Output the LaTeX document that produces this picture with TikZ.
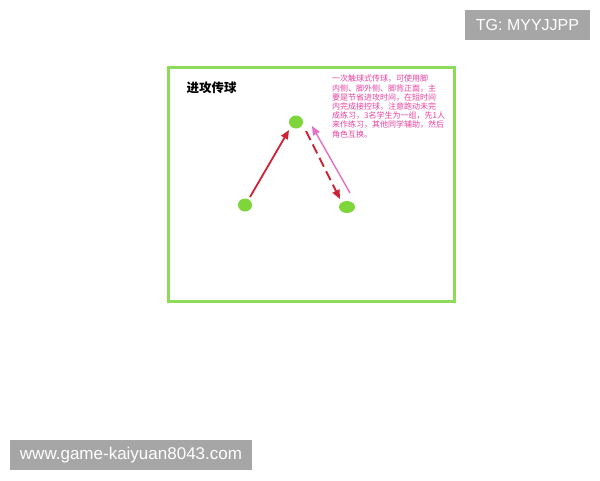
\documentclass[tikz,border=0pt]{standalone}
\usepackage{fontspec}
\setmainfont{Liberation Sans}
\newfontfamily\cjk{Noto Sans CJK SC}
\usetikzlibrary{arrows.meta,shapes.geometric}
\definecolor{boxgreen}{HTML}{8CDC5A}
\definecolor{dotgreen}{HTML}{7ED63A}
\definecolor{redarrow}{HTML}{CC2233}
\definecolor{pinkarrow}{HTML}{E070C8}
\definecolor{pinktext}{HTML}{E8409F}
\definecolor{wmgray}{HTML}{A6A6A6}
\tikzset{
  player/.style={ellipse, fill=dotgreen, minimum width=14pt, minimum height=13pt, inner sep=0pt},
  pass/.style={line width=1.8pt, -{Triangle[length=9pt,width=7.5pt]}},
  watermark/.style={fill=wmgray, text=white, font=\fontsize{16}{18}\selectfont, inner sep=0pt, minimum height=30pt},
}
\begin{document}
\begin{tikzpicture}[x=1pt,y=-1pt]
\useasboundingbox (0,0) rectangle (600,480);
\fill[white] (0,0) rectangle (600,480);
% frame
\node[draw=boxgreen, line width=3pt, minimum width=286pt, minimum height=234pt, inner sep=0pt] (frame) at (311,184.5) {};
% title
\node[anchor=west, font=\cjk\bfseries\fontsize{12.5}{14}\selectfont] (title) at (183,88) {进攻传球};
% description
\node[anchor=north west, text=pinktext, align=left, inner sep=0pt,
      font=\cjk\fontsize{8}{9.2}\selectfont] (desc) at (332,75)
  {一次触球式传球，可使用脚\\内侧、脚外侧、脚背正面，主\\要是节省进攻时间，在短时间\\内完成接控球，注意跑动未完\\成练习，3名学生为一组，先1人\\来作练习，其他同学辅助，然后\\角色互换。};
% players
\node[player] (top) at (296,122) {};
\node[player] (left) at (245,205) {};
\node[player, minimum width=16pt, minimum height=12pt] (right) at (347,207) {};
% arrows
\coordinate (a1s) at (250,197);
\coordinate (a1e) at (289,130);
\coordinate (a2s) at (306,131);
\coordinate (a2e) at (340,199);
\coordinate (a3s) at (350,193);
\coordinate (a3e) at (312,126);
\draw[pass, redarrow] (a1s) -- (a1e);
\draw[pass, redarrow, dash pattern=on 10pt off 5pt] (a2s) -- (a2e);
\draw[pass, pinkarrow, line width=1.4pt] (a3s) -- (a3e);
% watermarks
\node[watermark, minimum width=125pt] (tg) at (527.5,25) {TG: MYYJJPP};
\node[watermark, minimum width=242pt, font=\fontsize{17}{19}\selectfont] (www) at (131,455) {www.game-kaiyuan8043.com};
\end{tikzpicture}
\end{document}
